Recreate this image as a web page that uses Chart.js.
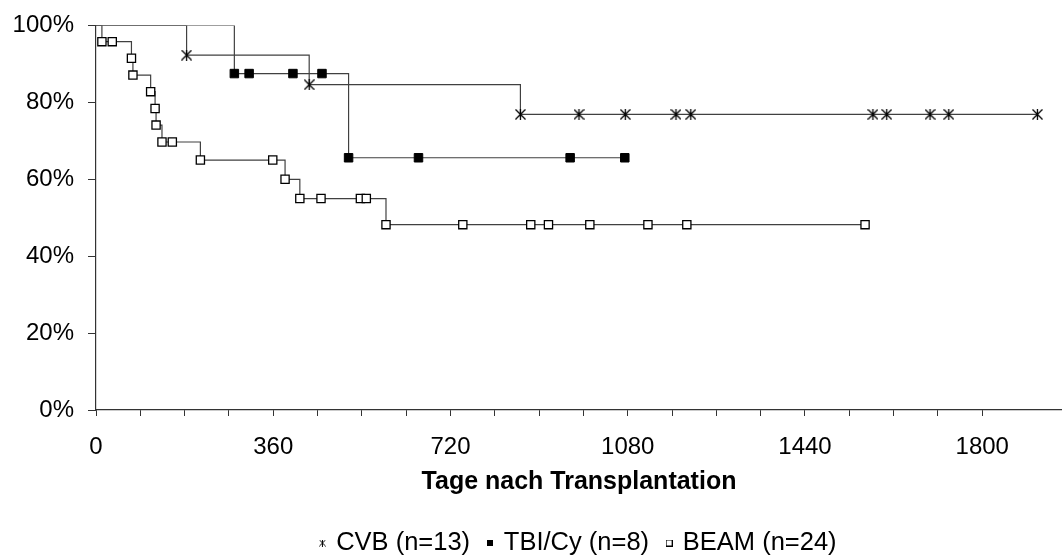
<!DOCTYPE html>
<html>
<head>
<meta charset="utf-8">
<script src="https://cdn.jsdelivr.net/npm/chart.js"></script>
<style>
  html, body { margin: 0; padding: 0; background: #fff; overflow: hidden; }
  #wrap { width: 1062px; height: 559px; position: relative; }
</style>
</head>
<body>
<div id="wrap"><canvas id="km"></canvas></div>
<script>
// Kaplan-Meier Daten (Tage, Überleben in %)
const groupNames = ['CVB (n=13)', 'TBI/Cy (n=8)', 'BEAM (n=24)'];

const cvbDays = [0, 184, 433, 862, 981, 1075, 1178, 1208, 1578, 1606, 1694, 1732, 1912];
const cvbSurv = [100, 92.3, 84.6, 76.9, 76.9, 76.9, 76.9, 76.9, 76.9, 76.9, 76.9, 76.9, 76.9];

const tbiDays = [0, 281, 311, 400, 459, 513, 655, 963, 1074];
const tbiSurv = [100, 87.5, 87.5, 87.5, 87.5, 65.6, 65.6, 65.6, 65.6];

const beamDays = [0, 12, 33, 72, 75, 111, 120, 122, 134, 155, 212, 359, 384, 414, 457, 537, 549, 589,
                  745, 883, 919, 1003, 1121, 1200, 1562];
const beamSurv = [100, 95.8, 95.8, 91.5, 87.1, 82.8, 78.4, 74.1, 69.7, 69.7, 65.0, 65.0, 60.0, 55.0, 55.0, 55.0, 55.0, 48.2,
                  48.2, 48.2, 48.2, 48.2, 48.2, 48.2, 48.2];

const xTickStep = 360;
const xMinorStep = 90;
const xMax = 1962;
const yTickStep = 20;

const font = "'Liberation Sans', Arial, sans-serif";
const lineColor = '#404040';
const axisColor = '#333333';

// Marker als kleine Canvas
function markCanvas(size, draw) {
    const c = document.createElement('canvas');
    c.width = size; c.height = size;
    draw(c.getContext('2d'), size);
    return c;
}

// Stern: X mit senkrechtem Strich, wie im Excel-Original
const drawStar = lw => (g, s) => {
    g.strokeStyle = '#000';
    g.lineWidth = lw;
    g.beginPath();
    g.moveTo(0.5, 0.5); g.lineTo(s - 0.5, s - 0.5);
    g.moveTo(s - 0.5, 0.5); g.lineTo(0.5, s - 0.5);
    g.moveTo(s / 2, 0); g.lineTo(s / 2, s);
    g.stroke();
};
const drawFilled = (g, s) => { g.fillStyle = '#000'; g.fillRect(0, 0, s, s); };
const drawHollow = (g, s) => {
    g.fillStyle = '#fff'; g.fillRect(0, 0, s, s);
    g.strokeStyle = '#000'; g.lineWidth = 1; g.strokeRect(0.5, 0.5, s - 1, s - 1);
};

const starPoint = markCanvas(11, drawStar(1.3));
const legendMarks = [markCanvas(7, drawStar(1)), markCanvas(6, drawFilled), markCanvas(7, drawHollow)];

function toPoints(days, surv) {
    return days.map((d, i) => ({ x: d, y: surv[i] }));
}

// erster Punkt (Tag 0) ohne Marker
const radius = r => ctx => ctx.dataIndex === 0 ? 0 : r;

const datasets = [
    {
        label: groupNames[0],
        data: toPoints(cvbDays, cvbSurv),
        pointStyle: starPoint,
        pointRadius: radius(5.5)
    },
    {
        label: groupNames[1],
        data: toPoints(tbiDays, tbiSurv),
        pointStyle: 'rect',
        pointRadius: radius(6),
        pointBackgroundColor: '#000',
        pointBorderColor: '#000',
        pointBorderWidth: 1
    },
    {
        label: groupNames[2],
        data: toPoints(beamDays, beamSurv),
        pointStyle: 'rect',
        pointRadius: radius(5.8),
        pointBackgroundColor: '#fff',
        pointBorderColor: '#000',
        pointBorderWidth: 1.3
    }
].map(ds => Object.assign({
    stepped: true,
    borderColor: lineColor,
    borderWidth: 1.2,
    fill: false,
    pointHoverRadius: 0
}, ds));

new Chart(document.getElementById('km'), {
    type: 'line',
    data: { datasets: datasets },
    options: {
        responsive: true,
        maintainAspectRatio: false,
        animation: false,
        layout: { autoPadding: false, padding: { top: 25.5, right: 0, bottom: -6.75, left: 0 } },
        plugins: {
            tooltip: { enabled: false },
            legend: {
                position: 'bottom',
                fullSize: false,
                labels: {
                    usePointStyle: true,
                    boxWidth: 2,
                    boxHeight: 2,
                    padding: 19,
                    color: '#000',
                    font: { family: font, size: 25.5 },
                    generateLabels: chart => chart.data.datasets.map((ds, i) => ({
                        text: ds.label,
                        pointStyle: legendMarks[i],
                        fillStyle: '#000',
                        strokeStyle: '#000',
                        lineWidth: 0,
                        fontColor: '#000',
                        hidden: false,
                        datasetIndex: i
                    }))
                }
            }
        },
        scales: {
            x: {
                type: 'linear',
                min: 0,
                max: xMax,
                afterBuildTicks: s => {
                    s.ticks = s.ticks.filter(t => t.value % xMinorStep === 0);
                },
                afterFit: s => { s.height = 101.25; s.paddingLeft = 0; s.paddingRight = 0; },
                ticks: {
                    stepSize: xMinorStep,
                    autoSkip: false,
                    maxRotation: 0,
                    padding: 17,
                    color: '#000',
                    font: { family: font, size: 24 },
                    callback: v => v % xTickStep === 0 ? String(v) : ''
                },
                grid: { drawOnChartArea: false, drawTicks: true, tickLength: 6, color: axisColor },
                border: { display: true, color: axisColor, width: 1.2 },
                title: {
                    display: true,
                    text: 'Tage nach Transplantation',
                    color: '#000',
                    font: { family: font, size: 25, weight: 'bold' },
                    padding: { top: 0, bottom: 14.5 }
                }
            },
            y: {
                min: 0,
                max: 100,
                afterFit: s => { s.width = 96; s.paddingTop = 0; s.paddingBottom = 0; },
                ticks: {
                    stepSize: yTickStep,
                    padding: 14,
                    color: '#000',
                    font: { family: font, size: 24 },
                    callback: v => v + '%'
                },
                grid: { drawOnChartArea: false, drawTicks: true, tickLength: 8, color: axisColor },
                border: { display: true, color: axisColor, width: 1.2 }
            }
        }
    }
});
</script>
</body>
</html>
